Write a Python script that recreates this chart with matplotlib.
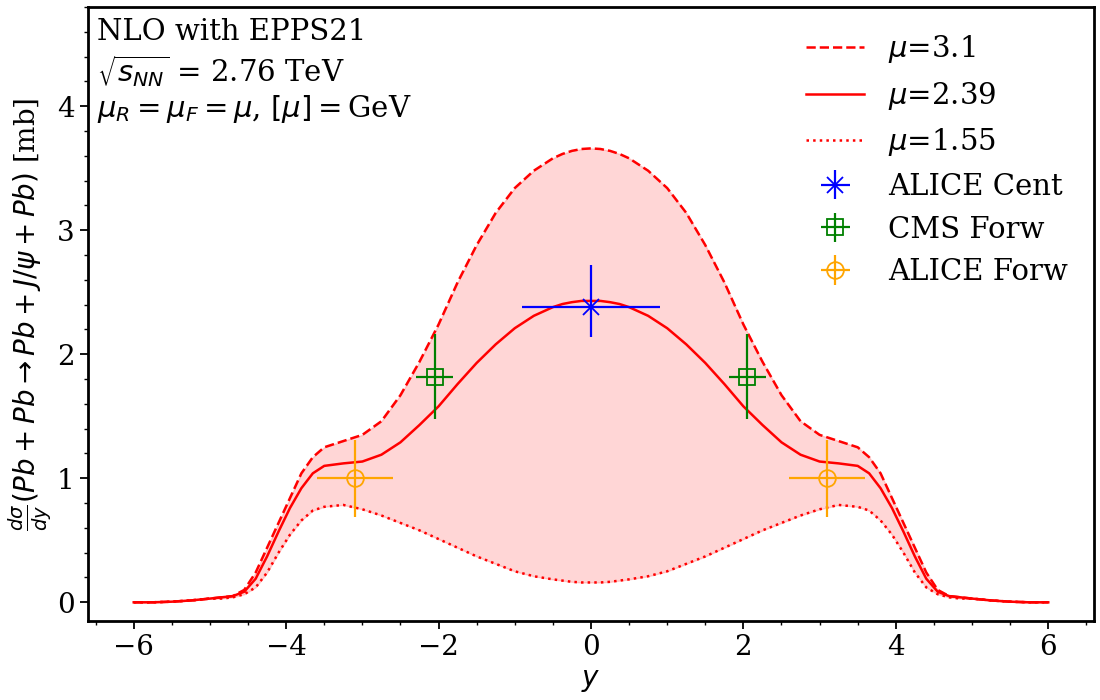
import numpy as np
import matplotlib
matplotlib.use('Agg')
import matplotlib.pyplot as plt
from matplotlib.ticker import MultipleLocator

plt.rcParams['font.family'] = 'DejaVu Serif'
plt.rcParams['mathtext.fontset'] = 'dejavusans'

# rapidity grid
rap = [-6.0, -5.75, -5.5, -5.25, -5.0, -4.85, -4.7, -4.55, -4.4, -4.25, -4.1, -3.95, -3.8, -3.65,
       -3.5, -3.25, -3.0, -2.75, -2.5, -2.25, -2.0, -1.75, -1.5, -1.25, -1.0, -0.75, -0.5, -0.375,
       -0.25, -0.125, 0.0, 0.125, 0.25, 0.375, 0.5, 0.75, 1.0, 1.25, 1.5, 1.75, 2.0, 2.25, 2.5,
       2.75, 3.0, 3.25, 3.5, 3.65, 3.8, 3.95, 4.1, 4.25, 4.4, 4.55, 4.7, 4.85, 5.0, 5.25, 5.5,
       5.75, 6.0]

# mu = 3.1 GeV (dashed)
sig_31 = [0.0, 0.0, 0.005, 0.015, 0.03, 0.04, 0.05, 0.10, 0.24, 0.44, 0.64, 0.84, 1.04, 1.17,
          1.25, 1.30, 1.35, 1.46, 1.67, 1.94, 2.24, 2.58, 2.88, 3.14, 3.34, 3.48, 3.58, 3.615,
          3.64, 3.655, 3.66, 3.655, 3.64, 3.615, 3.58, 3.48, 3.34, 3.14, 2.88, 2.58, 2.24, 1.94, 1.67,
          1.46, 1.35, 1.30, 1.25, 1.17, 1.04, 0.84, 0.64, 0.44, 0.24, 0.10, 0.05, 0.04, 0.03, 0.015, 0.005,
          0.0, 0.0]

# mu = 2.39 GeV (solid)
sig_239 = [0.0, 0.0, 0.005, 0.015, 0.03, 0.04, 0.05, 0.085, 0.19, 0.37, 0.57, 0.76, 0.92, 1.04,
           1.10, 1.12, 1.135, 1.19, 1.29, 1.43, 1.58, 1.76, 1.93, 2.08, 2.21, 2.31, 2.38, 2.405,
           2.42, 2.43, 2.43, 2.43, 2.42, 2.405, 2.38, 2.31, 2.21, 2.08, 1.93, 1.76, 1.58, 1.43, 1.29,
           1.19, 1.135, 1.12, 1.10, 1.04, 0.92, 0.76, 0.57, 0.37, 0.19, 0.085, 0.05, 0.04, 0.03, 0.015, 0.005,
           0.0, 0.0]

# mu = 1.55 GeV (dotted)
sig_155 = [0.0, 0.0, 0.005, 0.015, 0.03, 0.03, 0.04, 0.065, 0.12, 0.24, 0.40, 0.545, 0.66, 0.74,
           0.77, 0.785, 0.75, 0.70, 0.64, 0.58, 0.51, 0.44, 0.37, 0.31, 0.25, 0.21, 0.185, 0.175,
           0.165, 0.16, 0.16, 0.16, 0.165, 0.175, 0.185, 0.21, 0.25, 0.31, 0.37, 0.44, 0.51, 0.58, 0.64,
           0.70, 0.75, 0.785, 0.77, 0.74, 0.66, 0.545, 0.40, 0.24, 0.12, 0.065, 0.04, 0.03, 0.03, 0.015, 0.005,
           0.0, 0.0]

# data points
alice_cent_y = [0.0]
alice_cent_val = [2.38]
alice_cent_yerr = [[0.24], [0.34]]
alice_cent_xerr = [0.9]

cms_y = [-2.05, 2.05]
cms_val = [1.82, 1.82]
cms_yerr = [0.345, 0.345]
cms_xerr = [0.245, 0.245]

alice_forw_y = [-3.1, 3.1]
alice_forw_val = [1.0, 1.0]
alice_forw_yerr = [0.31, 0.31]
alice_forw_xerr = [0.5, 0.5]

fig, ax = plt.subplots(figsize=(11, 7), dpi=100)
fig.subplots_adjust(left=0.08, right=0.9945, bottom=0.113, top=0.99)

ax.fill_between(rap, sig_155, sig_31, color='red', alpha=0.16)
ax.plot(rap, sig_31, color='red', ls='--', lw=1.8, label=r'$\mu$=3.1')
ax.plot(rap, sig_239, color='red', ls='-', lw=1.8, label=r'$\mu$=2.39')
ax.plot(rap, sig_155, color='red', ls=':', lw=1.8, label=r'$\mu$=1.55')

ax.errorbar(alice_cent_y, alice_cent_val, yerr=alice_cent_yerr, xerr=alice_cent_xerr,
            fmt='x', color='blue', ms=12, mew=1.3, elinewidth=1.6, label='ALICE Cent')
ax.errorbar(cms_y, cms_val, yerr=cms_yerr, xerr=cms_xerr, fmt='s', color='green',
            mfc='none', ms=12, mew=1.3, elinewidth=1.6, label='CMS Forw')
ax.errorbar(alice_forw_y, alice_forw_val, yerr=alice_forw_yerr, xerr=alice_forw_xerr, fmt='o',
            color='orange', mfc='none', ms=12, mew=1.3, elinewidth=1.6, label='ALICE Forw')

ax.set_xlim(-6.6, 6.6)
ax.set_ylim(-0.15, 4.8)
ax.xaxis.set_minor_locator(MultipleLocator(0.5))
ax.yaxis.set_minor_locator(MultipleLocator(0.2))
ax.tick_params(which='major', length=6, width=1.3, labelsize=20)
ax.tick_params(which='minor', length=3, width=1.0)
for s in ax.spines.values():
    s.set_linewidth(2)

ax.set_xlabel(r'$y$', fontsize=20, labelpad=4)
ax.set_ylabel(r'$\frac{d\sigma}{dy}(Pb+Pb \rightarrow Pb+J/\psi+Pb)$ [mb]', fontsize=20, labelpad=2)

ax.text(0.009, 0.982, 'NLO with EPPS21', transform=ax.transAxes, fontsize=21, va='top')
ax.text(0.009, 0.924, r'$\sqrt{s_{NN}}$ = 2.76 TeV', transform=ax.transAxes, fontsize=21, va='top')
ax.text(0.009, 0.86, r'$\mu_R=\mu_F=\mu$, $[\mu]=$GeV', transform=ax.transAxes, fontsize=21, va='top')

ax.legend(loc='upper right', frameon=False, fontsize=21)

fig.savefig('out.png', dpi=100)
